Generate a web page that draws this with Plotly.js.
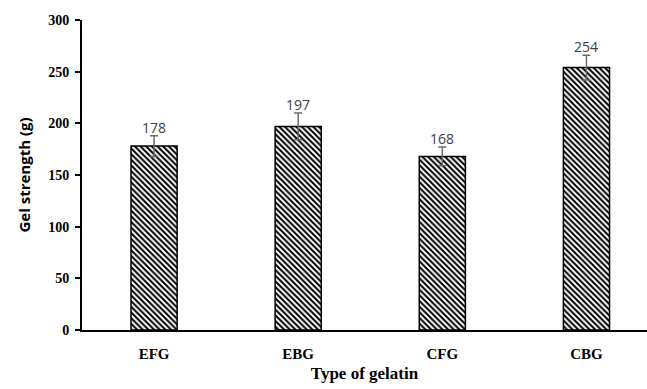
<!DOCTYPE html>
<html>
<head>
<meta charset="utf-8">
<script src="https://cdn.plot.ly/plotly-3.0.1.min.js"></script>
<style>html,body{margin:0;padding:0;background:#fff;}#chart{width:647px;height:389px;}</style>
</head>
<body>
<div id="chart"></div>
<script>
const categories = ["EFG", "EBG", "CFG", "CBG"];
const gelStrength = [178, 197, 168, 254];
const errors = [10, 13, 9, 12];
const yTicks = [0, 50, 100, 150, 200, 250, 300];

const trace = {
  type: "bar",
  x: categories,
  y: gelStrength,
  width: 0.32,
  marker: {
    color: "#ffffff",
    line: {color: "#000000", width: 1.5},
    pattern: {shape: "\\", fgcolor: "#000000", bgcolor: "#ffffff", size: 4, solidity: 0.5}
  },
  error_y: {type: "data", array: errors, visible: true, color: "#6b6b6b", thickness: 1.5, width: 4},
  hoverinfo: "none"
};

const annotations = categories.map((c, i) => ({
  x: c, y: gelStrength[i] + errors[i], text: String(gelStrength[i]),
  showarrow: false, yanchor: "bottom", yshift: -3,
  font: {family: "Open Sans, Liberation Sans, sans-serif", size: 14, color: "#404040"}
}));

const layout = {
  width: 647, height: 389,
  margin: {l: 82, r: 0, t: 20, b: 59},
  paper_bgcolor: "#ffffff", plot_bgcolor: "#ffffff",
  showlegend: false,
  xaxis: {
    range: [-0.5, 3.42],
    showline: true, linecolor: "#000000", linewidth: 2,
    ticks: "", showgrid: false, zeroline: false,
    tickfont: {family: "Liberation Serif, serif", size: 15, color: "#000000", weight: "bold"},
    ticklabelstandoff: 9,
    title: {text: "<b>Type of gelatin</b>", font: {family: "Liberation Serif, serif", size: 17, color: "#000000"}, standoff: 6}
  },
  yaxis: {
    range: [0, 300],
    tickvals: yTicks,
    showline: true, linecolor: "#000000", linewidth: 2,
    ticks: "outside", ticklen: 5, tickwidth: 2, tickcolor: "#000000",
    showgrid: false, zeroline: false,
    tickfont: {family: "Liberation Serif, serif", size: 14, color: "#000000", weight: "bold"},
    ticklabelstandoff: 3,
    title: {text: "<b>Gel strength (g)</b>", font: {family: "Open Sans, Liberation Sans, sans-serif", size: 15, color: "#000000"}, standoff: 14}
  },
  annotations: annotations
};

Plotly.newPlot("chart", [trace], layout, {staticPlot: true, displayModeBar: false});
</script>
</body>
</html>
